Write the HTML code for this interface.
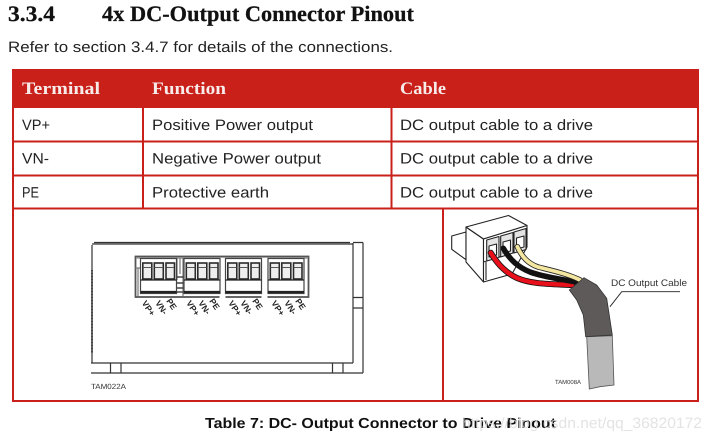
<!DOCTYPE html>
<html><head><meta charset="utf-8">
<style>
html,body{margin:0;padding:0;background:#fff;width:718px;height:444px;overflow:hidden}
svg{display:block}
text{font-family:"Liberation Sans",sans-serif;text-rendering:geometricPrecision}
.serif{font-family:"Liberation Serif",serif;font-weight:bold}
.title{font-size:22px;fill:#111;stroke:#111;stroke-width:.25}
.body{font-size:15px;fill:#222}
.hd{font-size:17.500px;fill:#f8ecea}
.ln{stroke:#c9201a;stroke-width:2;fill:none}
.pin{font-size:8.500px;fill:#222;font-weight:bold}
.sm{fill:#333}
.cell{fill:#eee;stroke:#2a2a2a;stroke-width:1.600}
.wm{font-size:15px;fill:#dcdcdc;fill-opacity:.8}
</style></head><body>
<svg width="718" height="444" viewBox="0 0 718 444" xmlns="http://www.w3.org/2000/svg">
<defs>
<g id="blk">
<rect x="140.500" y="258.500" width="36" height="35" fill="#fff" stroke="#444" stroke-width="1.200"/>
<rect class="cell" x="142.800" y="263" width="9" height="16"/>
<rect class="cell" x="154.300" y="263" width="9" height="16"/>
<rect class="cell" x="166" y="263" width="8.500" height="16"/>
<path d="M143 267.500H151.500M154.500 267.500H163M166.500 267.500H174" stroke="#555" stroke-width="1"/>
<path d="M140.500 280H176.500" stroke="#222" stroke-width="1.200"/>
<path d="M140.500 292H176.500" stroke="#222" stroke-width="2.200"/>
</g>
</defs>
<rect width="718" height="444" fill="#fff"/>
<text class="serif title" x="8" y="21" textLength="47" lengthAdjust="spacingAndGlyphs">3.3.4</text>
<text class="serif title" x="102" y="21" textLength="312" lengthAdjust="spacingAndGlyphs">4x DC-Output Connector Pinout</text>
<text class="body" x="8" y="52" textLength="385" lengthAdjust="spacingAndGlyphs">Refer to section 3.4.7 for details of the connections.</text>

<!-- table -->
<rect x="12" y="69" width="687" height="39" fill="#c9201a"/>
<text class="serif hd" x="22" y="94" textLength="78" lengthAdjust="spacingAndGlyphs">Terminal</text>
<text class="serif hd" x="152" y="94" textLength="74" lengthAdjust="spacingAndGlyphs">Function</text>
<text class="serif hd" x="400" y="94" textLength="46" lengthAdjust="spacingAndGlyphs">Cable</text>
<path class="ln" d="M13 69V402M698 69V402M12 141.500H699M12 175.500H699M12 208.500H699M12 401H699M143 108V208M391.500 108V208M443 208V401"/>

<text class="body" x="22" y="130" textLength="28" lengthAdjust="spacingAndGlyphs">VP+</text>
<text class="body" x="152" y="130" textLength="161" lengthAdjust="spacingAndGlyphs">Positive Power output</text>
<text class="body" x="400" y="130" textLength="193" lengthAdjust="spacingAndGlyphs">DC output cable to a drive</text>
<text class="body" x="22" y="163.500" textLength="27" lengthAdjust="spacingAndGlyphs">VN-</text>
<text class="body" x="152" y="163.500" textLength="169" lengthAdjust="spacingAndGlyphs">Negative Power output</text>
<text class="body" x="400" y="163.500" textLength="193" lengthAdjust="spacingAndGlyphs">DC output cable to a drive</text>
<text class="body" x="22" y="197.500" textLength="17" lengthAdjust="spacingAndGlyphs">PE</text>
<text class="body" x="152" y="197.500" textLength="117" lengthAdjust="spacingAndGlyphs">Protective earth</text>
<text class="body" x="400" y="197.500" textLength="193" lengthAdjust="spacingAndGlyphs">DC output cable to a drive</text>

<!-- left drawing -->
<g fill="none" stroke="#333" stroke-width="1.200">
<path d="M92 245V363M92 244H353M94 242.500H350M353 243V363M363 242.500V373M353 242.500H363M353 297.500H363M353 308H363M91 363H353M91 373H363M110.500 363V373M121 363V373M332.500 363V373M343 363V373"/>
<path d="M92 270V353" stroke-width="2" stroke="#444" stroke-dasharray="1 .5"/>
<rect x="135.500" y="256.500" width="173" height="40.500" stroke="#555" stroke-width="1.800" fill="#fff"/>
<path d="M136 258H308" stroke="#999" stroke-width="1.500"/>
<path d="M135.500 268H140M138 268V296M177 258V280M180 258V274M183 258V296" stroke="#777"/>
<path d="M176 277H184M176 283H184M176 288H184M176 292H184" stroke="#444" stroke-width="1.400"/>
</g>
<rect x="219.500" y="257.800" width="6" height="41" fill="#fff"/>
<rect x="261.500" y="257.800" width="6" height="41" fill="#fff"/>
<use href="#blk"/>
<use href="#blk" transform="translate(43.500 0)"/>
<use href="#blk" transform="translate(85 0)"/>
<use href="#blk" transform="translate(127.500 0)"/>
<g>
<text class="pin" transform="translate(141.500 303) rotate(56)">VP+</text><text class="pin" transform="translate(155 303) rotate(56)">VN-</text><text class="pin" transform="translate(166 301) rotate(56)">PE</text>
<text class="pin" transform="translate(186 303) rotate(56)">VP+</text><text class="pin" transform="translate(198 303) rotate(56)">VN-</text><text class="pin" transform="translate(209 301) rotate(56)">PE</text>
<text class="pin" transform="translate(228 303) rotate(56)">VP+</text><text class="pin" transform="translate(240 303) rotate(56)">VN-</text><text class="pin" transform="translate(252 301) rotate(56)">PE</text>
<text class="pin" transform="translate(271 303) rotate(56)">VP+</text><text class="pin" transform="translate(284 303) rotate(56)">VN-</text><text class="pin" transform="translate(295 301) rotate(56)">PE</text>
</g>
<text class="sm" x="91" y="389" font-size="7.500" textLength="35" lengthAdjust="spacingAndGlyphs">TAM022A</text>

<!-- right drawing -->
<g stroke="#222" stroke-width="1.100" stroke-linejoin="round">
<path d="M466 232L451.700 236V249.300L466 259.700Z" fill="#fff"/>
<path d="M466 227V262L483.500 282V239Z" fill="#fff"/>
<path d="M466 227L508.500 215.500L527 225.500L483.500 239Z" fill="#fff"/>
<path d="M483.500 239L527 225.500V247L512 274L483.500 282Z" fill="#fff"/>
<path d="M486 262V280M483.500 262L527 248" fill="none"/>
<path d="M486.700 240L499 236.500V257.500L486.700 261ZM500.700 236L513 232.500V253L500.700 257ZM514 232L526 228.500V249.500L514 253Z" fill="#e4e4e4"/>
<path d="M489 246L496.500 244V255L489 257ZM503 242L510.500 240V251L503 253ZM516.500 238L524 236V247L516.500 249Z" fill="#fff"/>
</g>
<path d="M490.700 252.700C498 265 506 273 517 278C532 284.500 552 284 572 285" fill="none" stroke="#111" stroke-width="6" stroke-linecap="round"/>
<path d="M490.700 252.700C498 265 506 273 517 278C532 284.500 552 284 572 285" fill="none" stroke="#e8101a" stroke-width="4.400" stroke-linecap="round"/>
<path d="M503.300 248.300C510 260 518 267 530 272C545 277.500 562 279 577 282.300" fill="none" stroke="#111" stroke-width="5.500" stroke-linecap="round"/>
<path d="M517.300 246.700C522 257 528 263.500 538 267C552 270.500 568 274 580 280" fill="none" stroke="#222" stroke-width="5.500" stroke-linecap="round"/>
<path d="M517.300 246.700C522 257 528 263.500 538 267C552 270.500 568 274 580 280" fill="none" stroke="#f3e6a0" stroke-width="3.800" stroke-linecap="round"/>
<path d="M586.700 336.700L612.300 335.700L614 385L600 386.700L589.300 389Z" fill="#b9b9b9" stroke="#555" stroke-width=".8"/>
<path d="M569.300 290L584 277.700L596.700 285L606.700 298.300L612.300 335L585.700 336.700L583.300 315L576.700 300Z" fill="#5f5a5a" stroke="#333" stroke-width=".8"/>
<path d="M610 306.700L621.700 291.700H680" fill="none" stroke="#222" stroke-width=".9"/>
<text class="sm" x="611" y="286" font-size="9.500" textLength="76" lengthAdjust="spacingAndGlyphs">DC Output Cable</text>
<text class="sm" x="555" y="384" font-size="6" textLength="26" lengthAdjust="spacingAndGlyphs">TAM008A</text>

<!-- caption -->
<text x="205" y="428" font-size="14.500" font-weight="bold" style="fill:#111" textLength="351" lengthAdjust="spacingAndGlyphs">Table 7: DC- Output Connector to Drive Pinout</text>
<text class="wm" x="462" y="428" textLength="240" lengthAdjust="spacingAndGlyphs">https://blog.csdn.net/qq_36820172</text>
</svg>
</body></html>
